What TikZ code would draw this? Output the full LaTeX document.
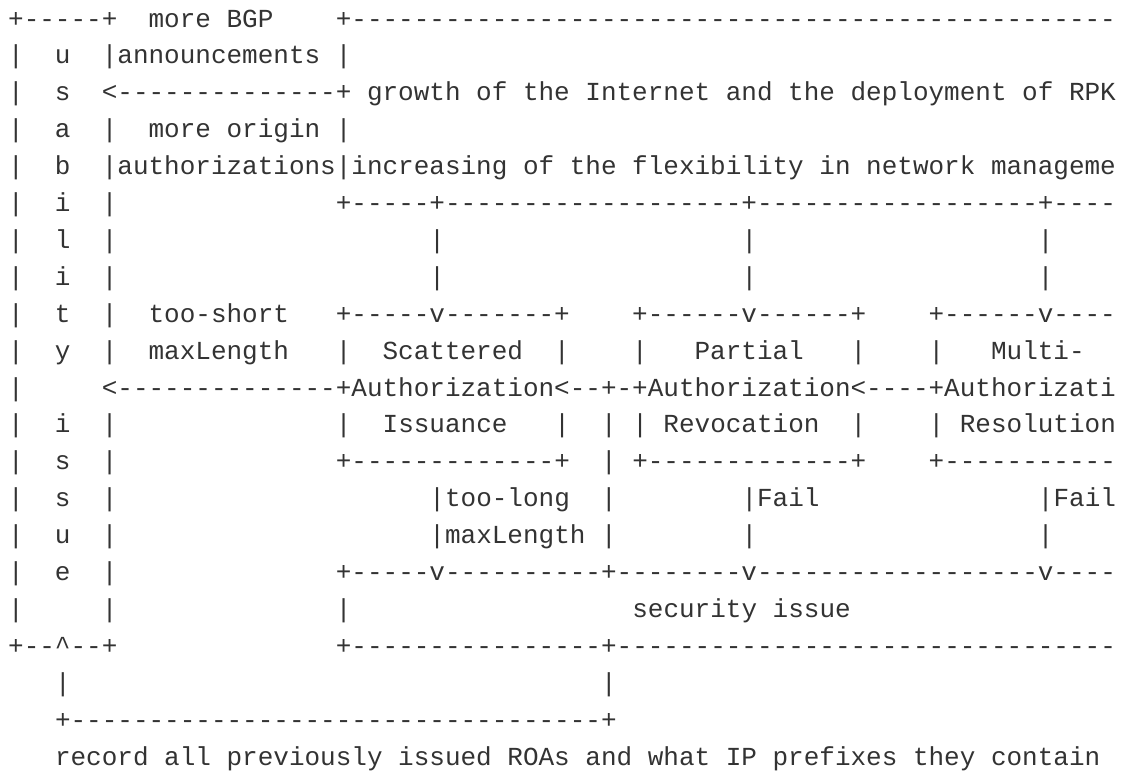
\documentclass[tikz,border=0pt]{standalone}
\usepackage{fontspec}
\setmonofont{Liberation Mono}
\ExplSyntaxOn
\cs_new:Npn \RR #1#2 { \prg_replicate:nn {#1} {#2} }
\ExplSyntaxOff
\definecolor{ink}{HTML}{333333}
\tikzset{ln/.style={anchor=base west, inner sep=0pt, outer sep=0pt, text=ink,
  font=\ttfamily\fontsize{26}{26}\selectfont\frenchspacing}}
\newcommand\rowy[1]{-27-36.9*#1}
\begin{document}
\begin{tikzpicture}[x=1pt,y=1pt]
\useasboundingbox (0,0) rectangle (1121,-772);
\fill[white] (0,0) rectangle (1121,-772);
\node[ln] (r0) at (8.2,{\rowy{0}}) {+\RR5-+\RR2~more~BGP\RR4~+\RR{49}-};
\node[ln] (r1) at (8.2,{\rowy{1}}) {|\RR2~u\RR2~|announcements~|};
\node[ln] (r2) at (8.2,{\rowy{2}}) {|\RR2~s\RR2~<\RR{14}-+~growth~of~the~Internet~and~the~deployment~of~RPK};
\node[ln] (r3) at (8.2,{\rowy{3}}) {|\RR2~a\RR2~|\RR2~more~origin~|};
\node[ln] (r4) at (8.2,{\rowy{4}}) {|\RR2~b\RR2~|authorizations|increasing~of~the~flexibility~in~network~manageme};
\node[ln] (r5) at (8.2,{\rowy{5}}) {|\RR2~i\RR2~|\RR{14}~+\RR5-+\RR{19}-+\RR{18}-+\RR{4}-};
\node[ln] (r6) at (8.2,{\rowy{6}}) {|\RR2~l\RR2~|\RR{20}~|\RR{19}~|\RR{18}~|};
\node[ln] (r7) at (8.2,{\rowy{7}}) {|\RR2~i\RR2~|\RR{20}~|\RR{19}~|\RR{18}~|};
\node[ln] (r8) at (8.2,{\rowy{8}}) {|\RR2~t\RR2~|\RR2~too-short\RR3~+\RR5-v\RR7-+\RR4~+\RR6-v\RR6-+\RR4~+\RR6-v\RR{4}-};
\node[ln] (r9) at (8.2,{\rowy{9}}) {|\RR2~y\RR2~|\RR2~maxLength\RR3~|\RR2~Scattered\RR2~|\RR4~|\RR3~Partial\RR3~|\RR4~|\RR3~Multi-};
\node[ln] (r10) at (8.2,{\rowy{10}}) {|\RR5~<\RR{14}-+Authorization<\RR2-+-+Authorization<\RR4-+Authorizati};
\node[ln] (r11) at (8.2,{\rowy{11}}) {|\RR2~i\RR2~|\RR{14}~|\RR2~Issuance\RR3~|\RR2~|~|~Revocation\RR2~|\RR4~|~Resolution};
\node[ln] (r12) at (8.2,{\rowy{12}}) {|\RR2~s\RR2~|\RR{14}~+\RR{13}-+\RR2~|~+\RR{13}-+\RR4~+\RR{11}-};
\node[ln] (r13) at (8.2,{\rowy{13}}) {|\RR2~s\RR2~|\RR{20}~|too-long\RR2~|\RR8~|Fail\RR{14}~|Fail};
\node[ln] (r14) at (8.2,{\rowy{14}}) {|\RR2~u\RR2~|\RR{20}~|maxLength~|\RR8~|\RR{18}~|};
\node[ln] (r15) at (8.2,{\rowy{15}}) {|\RR2~e\RR2~|\RR{14}~+\RR5-v\RR{10}-+\RR8-v\RR{18}-v\RR{4}-};
\node[ln] (r16) at (8.2,{\rowy{16}}) {|\RR5~|\RR{14}~|\RR{18}~security~issue};
\node[ln] (r17) at (8.2,{\rowy{17}}) {+\RR2-\textasciicircum\RR2-+\RR{14}~+\RR{16}-+\RR{32}-};
\node[ln] (r18) at (8.2,{\rowy{18}}) {\RR3~|\RR{34}~|};
\node[ln] (r19) at (8.2,{\rowy{19}}) {\RR3~+\RR{34}-+};
\node[ln] (r20) at (8.2,{\rowy{20}}) {\RR3~record~all~previously~issued~ROAs~and~what~IP~prefixes~they~contain};
\end{tikzpicture}
\end{document}
